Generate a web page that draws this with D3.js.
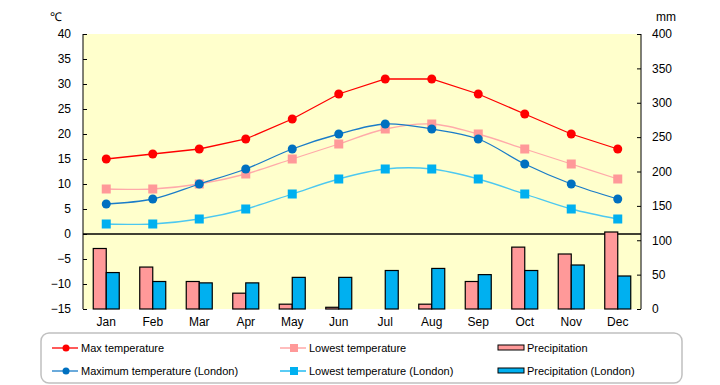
<!DOCTYPE html>
<html>
<head>
<meta charset="utf-8">
<script src="https://cdn.jsdelivr.net/npm/d3@7"></script>
<style>
  body { margin: 0; background: #fff; }
  text { font-family: "Liberation Sans", Arial, sans-serif; font-size: 11px; fill: #000; }
</style>
</head>
<body>
<svg id="chart" width="720" height="385"></svg>
<script>
const months = ["Jan","Feb","Mar","Apr","May","Jun","Jul","Aug","Sep","Oct","Nov","Dec"];
const maxTemp = [15,16,17,19,23,28,31,31,28,24,20,17];
const lowTemp = [9,9,10,12,15,18,21,22,20,17,14,11];
const maxTempLondon = [6,7,10,13,17,20,22,21,19,14,10,7];
const lowTempLondon = [2,2,3,5,8,11,13,13,11,8,5,3];
const precip = [88,61,40,23,7,2.5,0,7,40,90,80,112];
const precipLondon = [53,40,38,38,46,46,56,59,50,56,64,48];
const tempTicks = [40,35,30,25,20,15,10,5,0,-5,-10,-15];
const mmTicks = [400,350,300,250,200,150,100,50,0];

const svg = d3.select("#chart");
const plotL = 83, plotR = 641, plotT = 34, plotB = 309;

const x = d3.scaleBand().domain(months).range([plotL, plotR]);
const yT = d3.scaleLinear().domain([-15, 40]).range([plotB, plotT]);
const yP = d3.scaleLinear().domain([0, 400]).range([plotB, plotT]);
const cx = i => x(months[i]) + x.bandwidth() / 2;

// plot background
svg.append("rect")
  .attr("x", plotL).attr("y", plotT)
  .attr("width", plotR - plotL).attr("height", plotB - plotT)
  .attr("fill", "#FFFFCC");

// left axis
const axL = svg.append("g").attr("transform", `translate(${plotL},0)`)
  .call(d3.axisRight(yT).tickValues(tempTicks).tickSize(4).tickFormat(d3.format("d")));
axL.select(".domain").attr("stroke", "#000").attr("d", `M0,${plotT}V${plotB}`);
axL.selectAll(".tick text").attr("x", -12).attr("text-anchor", "end")
  .style("font-size", "12px").text(d => d < 0 ? "\u2212" + Math.abs(d) : d);

// right axis
const axR = svg.append("g").attr("transform", `translate(${plotR},0)`)
  .call(d3.axisLeft(yP).tickValues(mmTicks).tickSize(4));
axR.select(".domain").attr("stroke", "#000").attr("d", `M0,${plotT}V${plotB}`);
axR.selectAll(".tick text").attr("x", 11).attr("text-anchor", "start").style("font-size", "12px");

svg.append("text").attr("x", 50).attr("y", 21).style("font-size", "12px").text("\u2103");
svg.append("text").attr("x", 656).attr("y", 21).style("font-size", "12px").text("mm");

// x labels
svg.append("g").selectAll("text").data(months).join("text")
  .attr("x", (d, i) => cx(i))
  .attr("y", 326)
  .attr("text-anchor", "middle")
  .style("font-size", "12px")
  .text(d => d);

// zero line
svg.append("line")
  .attr("x1", plotL).attr("x2", plotR)
  .attr("y1", yT(0)).attr("y2", yT(0))
  .attr("stroke", "#000").attr("stroke-width", 1.5);

// precipitation bars
const barW = 13;
const bars = svg.append("g").attr("stroke", "#000").attr("stroke-width", 1.2);
bars.selectAll(".p1").data(precip).join("rect")
  .attr("x", (d, i) => cx(i) - barW)
  .attr("y", d => yP(d)).attr("width", barW)
  .attr("height", d => plotB - yP(d))
  .attr("fill", "#FF9999")
  .attr("display", d => d > 0 ? null : "none");
bars.selectAll(".p2").data(precipLondon).join("rect")
  .attr("x", (d, i) => cx(i))
  .attr("y", d => yP(d)).attr("width", barW)
  .attr("height", d => plotB - yP(d))
  .attr("fill", "#00B0F0");

// temperature lines
const series = [
  { vals: lowTempLondon, line: "#4CC8F0", color: "#00B0F0", shape: "square", curve: d3.curveCatmullRom },
  { vals: lowTemp, line: "#FFAAAA", color: "#FF9999", shape: "square", curve: d3.curveCatmullRom },
  { vals: maxTempLondon, line: "#1A7CC8", color: "#0070C0", shape: "circle", curve: d3.curveCatmullRom },
  { vals: maxTemp, line: "#FF0000", color: "#FF0000", shape: "circle", curve: d3.curveLinear }
];

series.forEach(s => {
  const line = d3.line()
    .x((d, i) => cx(i))
    .y(d => yT(d))
    .curve(s.curve);
  svg.append("path").datum(s.vals)
    .attr("d", line).attr("fill", "none")
    .attr("stroke", s.line).attr("stroke-width", 1.3);
  const g = svg.append("g");
  if (s.shape === "circle") {
    g.selectAll("circle").data(s.vals).join("circle")
      .attr("cx", (d, i) => cx(i))
      .attr("cy", d => yT(d)).attr("r", 4.5)
      .attr("fill", s.color);
  } else {
    g.selectAll("rect").data(s.vals).join("rect")
      .attr("x", (d, i) => cx(i) - 4.5)
      .attr("y", d => yT(d) - 4.5)
      .attr("width", 9).attr("height", 9)
      .attr("fill", s.color);
  }
});

// legend
svg.append("rect")
  .attr("x", 41).attr("y", 333).attr("width", 641).attr("height", 50)
  .attr("rx", 8).attr("fill", "#fff")
  .attr("stroke", "#C0C0C0").attr("stroke-width", 1.5);

const legend = [
  { label: "Max temperature", type: "circle", color: "#FF0000", line: "#FF0000", lx: 52, ly: 348 },
  { label: "Maximum temperature (London)", type: "circle", color: "#0070C0", line: "#1A7CC8", lx: 52, ly: 371 },
  { label: "Lowest temperature", type: "square", color: "#FF9999", line: "#FF9999", lx: 280, ly: 348 },
  { label: "Lowest temperature (London)", type: "square", color: "#00B0F0", line: "#00B0F0", lx: 280, ly: 371 },
  { label: "Precipitation", type: "bar", color: "#FF9999", lx: 498, ly: 348 },
  { label: "Precipitation (London)", type: "bar", color: "#00B0F0", lx: 498, ly: 371 }
];

const items = svg.append("g").selectAll("g").data(legend).join("g")
  .attr("transform", d => `translate(${d.lx},${d.ly})`);
items.each(function(d) {
  const g = d3.select(this);
  if (d.type === "bar") {
    g.append("rect").attr("x", 0).attr("y", -3).attr("width", 26).attr("height", 5)
      .attr("fill", d.color).attr("stroke", "#000").attr("stroke-width", 1);
  } else {
    g.append("line").attr("x1", 0).attr("x2", 26).attr("y1", 0).attr("y2", 0)
      .attr("stroke", d.line).attr("stroke-width", 1.3);
    if (d.type === "circle") {
      g.append("circle").attr("cx", 14).attr("cy", 0).attr("r", 3.5).attr("fill", d.color);
    } else {
      g.append("rect").attr("x", 10).attr("y", -4).attr("width", 8).attr("height", 8).attr("fill", d.color);
    }
  }
  g.append("text").attr("x", 29).attr("y", 4).text(d.label);
});
</script>
</body>
</html>
